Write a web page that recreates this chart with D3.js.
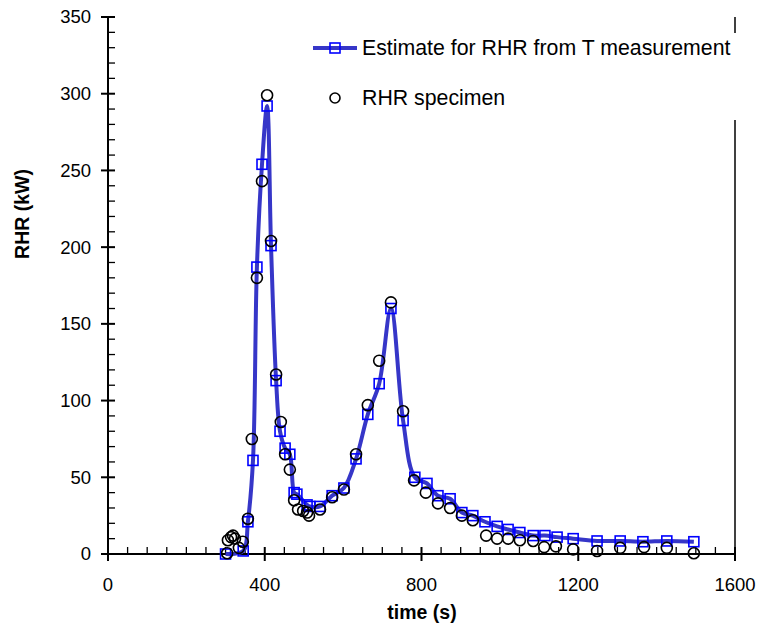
<!DOCTYPE html>
<html><head><meta charset="utf-8">
<script src="https://cdn.jsdelivr.net/npm/d3@7"></script>
<style>body{margin:0;background:#fff}svg{display:block}text{font-family:"Liberation Sans",Arial,sans-serif}</style>
</head><body>
<script>
// Estimate for RHR from T measurement
const estTime = [300,345,357,370,380,393,406,416,429,439,452,464,475,482,508,515,541,572,602,633,663,692,722,753,783,814,842,873,903,931,962,993,1021,1051,1085,1115,1146,1187,1248,1307,1365,1426,1495];
const estRHR  = [0,2,21,61,187,254,292,201,113,80,69,65,40,39,32,31,31,38,43,62,91,111,160,87,50,46,38,36,27,25,21,18,16,14,12,12,11,10,8.5,8.5,8,8.5,8];
// RHR specimen
const specTime = [304,306,314,319,324,334,344,357,367,380,393,406,416,429,441,452,464,475,485,498,508,513,541,572,602,633,663,692,722,753,781,811,842,873,903,931,965,993,1021,1051,1085,1113,1143,1187,1248,1307,1368,1426,1495];
const specRHR  = [0.5,9,11,12,10,4,8,23,75,180,243,299,204,117,86,65,55,35,29,28,27,25,29,37,42,65,97,126,164,93,48,40,33,30,25,22,12,10,10,9,8.5,4.5,5,3,2,4,4.5,4,0.5];
const xTicks = [0,400,800,1200,1600];
const yTicks = [0,50,100,150,200,250,300,350];
const seriesNames = ["Estimate for RHR from T measurement","RHR specimen"];

const W=760,H=632;
const svg=d3.select("body").append("svg").attr("width",W).attr("height",H);
const x=d3.scaleLinear().domain([0,1600]).range([108,735]);
const y=d3.scaleLinear().domain([0,350]).range([554,17]);

// right frame line
svg.append("line").attr("x1",735).attr("x2",735).attr("y1",17).attr("y2",554).attr("stroke","#000").attr("stroke-width",1.5);

// axes
const xAxis=svg.append("g").attr("transform","translate(0,554)");
xAxis.append("line").attr("x1",108).attr("x2",735).attr("stroke","#000").attr("stroke-width",2);
d3.range(0,1601,50).forEach(v=>{
  const major=v%400===0;
  xAxis.append("line").attr("x1",x(v)).attr("x2",x(v)).attr("y1",major?7:0).attr("y2",-7).attr("stroke","#000").attr("stroke-width",major?2:1.3);
});
xTicks.forEach(v=>xAxis.append("text").attr("x",x(v)).attr("y",37).attr("text-anchor","middle").attr("font-size",18.5).text(v));

const yAxis=svg.append("g");
yAxis.append("line").attr("x1",108).attr("x2",108).attr("y1",17).attr("y2",554).attr("stroke","#000").attr("stroke-width",2);
d3.range(0,351,10).forEach(v=>{
  const major=v%50===0;
  yAxis.append("line").attr("x1",major?101:108).attr("x2",115).attr("y1",y(v)).attr("y2",y(v)).attr("stroke","#000").attr("stroke-width",major?2:1.3);
});
yTicks.forEach(v=>yAxis.append("text").attr("x",91).attr("y",y(v)).attr("dy","0.35em").attr("text-anchor","end").attr("font-size",18.5).text(v));

svg.append("text").attr("x",422).attr("y",619).attr("text-anchor","middle").attr("font-size",19.5).attr("font-weight","bold").text("time (s)");
svg.append("text").attr("transform","translate(29,214) rotate(-90)").attr("text-anchor","middle").attr("font-size",19.5).attr("font-weight","bold").text("RHR (kW)");

// estimate line
const est=estTime.map((t,i)=>[t,estRHR[i]]);
const spec=specTime.map((t,i)=>[t,specRHR[i]]);
svg.append("path").datum(est).attr("fill","none").attr("stroke","#3636c8").attr("stroke-width",4)
  .attr("d",d3.line().x(d=>x(d[0])).y(d=>y(d[1])).curve(d3.curveCatmullRom.alpha(0.5)));
svg.selectAll(".sq").data(est).enter().append("rect").attr("class","sq")
  .attr("x",d=>x(d[0])-5).attr("y",d=>y(d[1])-5).attr("width",10).attr("height",10)
  .attr("fill","none").attr("stroke","#0000ff").attr("stroke-width",1.6);
svg.selectAll(".ci").data(spec).enter().append("circle").attr("class","ci")
  .attr("cx",d=>x(d[0])).attr("cy",d=>y(d[1])).attr("r",5.5)
  .attr("fill","none").attr("stroke","#000").attr("stroke-width",1.6);

// legend
const lg=svg.append("g");
lg.append("rect").attr("x",300).attr("y",33).attr("width",450).attr("height",87).attr("fill","#fff");
lg.append("line").attr("x1",313).attr("x2",357).attr("y1",48).attr("y2",48).attr("stroke","#3636c8").attr("stroke-width",4);
lg.append("rect").attr("x",330).attr("y",43).attr("width",10).attr("height",10).attr("fill","none").attr("stroke","#0000ff").attr("stroke-width",1.6);
lg.append("text").attr("x",362).attr("y",48).attr("dy","0.35em").attr("font-size",21.3).text(seriesNames[0]);
lg.append("circle").attr("cx",335).attr("cy",98).attr("r",5).attr("fill","none").attr("stroke","#000").attr("stroke-width",1.6);
lg.append("text").attr("x",362).attr("y",98).attr("dy","0.35em").attr("font-size",21.3).text(seriesNames[1]);
</script>
</body></html>
